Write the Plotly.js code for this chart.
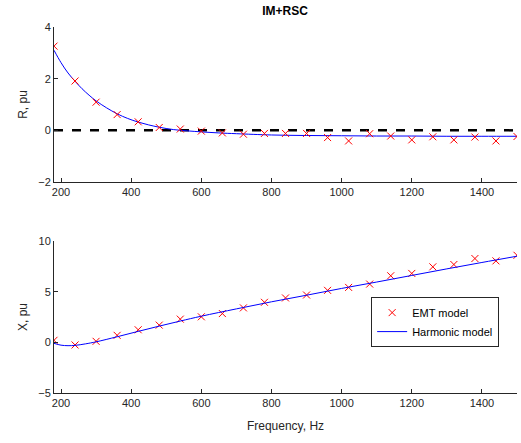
<!DOCTYPE html>
<html>
<head>
<meta charset="utf-8">
<script src="https://cdn.plot.ly/plotly-3.0.1.min.js"></script>
<style>html,body{margin:0;padding:0;background:#fff;}</style>
</head>
<body>
<div id="chart" style="width:521px;height:443px;"></div>
<script>
// EMT model sample frequencies (Hz)
const emtFreq = [180,240,300,360,420,480,540,600,660,720,780,840,900,960,1020,1080,1140,1200,1260,1320,1380,1440,1500];
// EMT model resistance R (pu)
const emtR = [3.26,1.91,1.09,0.61,0.33,0.11,0.05,-0.03,-0.10,-0.15,-0.12,-0.12,-0.12,-0.28,-0.41,-0.13,-0.22,-0.37,-0.25,-0.37,-0.26,-0.41,-0.24];
// EMT model reactance X (pu)
const emtX = [0.20,-0.26,0.10,0.69,1.24,1.70,2.29,2.52,2.84,3.40,3.95,4.38,4.67,5.13,5.42,5.75,6.57,6.80,7.45,7.68,8.27,8.04,8.59];

// Harmonic model curve
const harmFreqR = [180,200,220,240,260,280,300,330,360,390,420,450,480,520,560,600,650,700,800,900,1000,1100,1200,1300,1400,1500];
const harmR = [3.10,2.62,2.22,1.90,1.61,1.36,1.14,0.87,0.64,0.46,0.32,0.21,0.12,0.03,-0.02,-0.06,-0.10,-0.13,-0.18,-0.20,-0.21,-0.22,-0.22,-0.23,-0.23,-0.23];
const harmFreqX = [180,200,220,240,270,300,360,420,480,540,600,700,800,900,1000,1100,1200,1300,1400,1500];
const harmX = [-0.10,-0.28,-0.33,-0.30,-0.15,0.05,0.55,1.08,1.60,2.10,2.58,3.30,4.00,4.65,5.32,5.95,6.60,7.25,7.88,8.50];

// Reference line
const refFreq = [180,1500];
const refR = [0,0];

const axisCol = '#262626';
const fam = 'Liberation Sans, Arial, sans-serif';
const tickFont = {family:fam, size:11, color:axisCol};

const traces = [
  {x: refFreq, y: refR, xaxis:'x', yaxis:'y', mode:'lines', line:{color:'#000', width:2.5, dash:'dash'}, showlegend:false, hoverinfo:'skip'},
  {x: harmFreqR, y: harmR, xaxis:'x', yaxis:'y', mode:'lines', line:{color:'#0000ff', width:1, shape:'spline'}, showlegend:false},
  {x: emtFreq, y: emtR, xaxis:'x', yaxis:'y', mode:'markers', marker:{symbol:'x-thin-open', size:7, color:'#ff0000', line:{color:'#ff0000', width:1}}, showlegend:false},
  {x: emtFreq, y: emtX, xaxis:'x2', yaxis:'y2', mode:'markers', name:'EMT model', marker:{symbol:'x-thin-open', size:7, color:'#ff0000', line:{color:'#ff0000', width:1}}},
  {x: harmFreqX, y: harmX, xaxis:'x2', yaxis:'y2', mode:'lines', name:'Harmonic model', line:{color:'#0000ff', width:1, shape:'spline'}}
];

const xcommon = {
  range:[180,1500], tickvals:[200,400,600,800,1000,1200,1400], ticks:'inside', ticklen:4, tickcolor:axisCol,
  showline:true, linecolor:axisCol, linewidth:1, showgrid:false, zeroline:false, tickfont:tickFont, mirror:false
};
const ycommon = {
  ticks:'inside', ticklen:4, tickcolor:axisCol, showline:true, linecolor:axisCol, linewidth:1,
  showgrid:false, zeroline:false, tickfont:tickFont
};

const layout = {
  width:521, height:443,
  margin:{l:54, r:4, t:27, b:50},
  paper_bgcolor:'#fff', plot_bgcolor:'#fff',
  title:{text:'<b>IM+RSC</b>', font:{family:fam, size:12, color:'#000'}, x:0.547, xanchor:'center', y:0.975, yanchor:'middle'},
  xaxis: Object.assign({}, xcommon, {domain:[0,1], anchor:'y'}),
  yaxis: Object.assign({}, ycommon, {domain:[0.5765,1], range:[-2,4], tickvals:[-2,0,2,4], anchor:'x',
    title:{text:'R, pu', font:{family:fam, size:12, color:axisCol}, standoff:8}}),
  xaxis2: Object.assign({}, xcommon, {domain:[0,1], anchor:'y2',
    title:{text:'Frequency, Hz', font:{family:fam, size:12, color:axisCol}, standoff:13}}),
  yaxis2: Object.assign({}, ycommon, {domain:[0,0.4153], range:[-5,10], tickvals:[-5,0,5,10], anchor:'x2',
    title:{text:'X, pu', font:{family:fam, size:12, color:axisCol}, standoff:8}}),
  legend:{x:0.685, y:0.262, xanchor:'left', yanchor:'top', bgcolor:'#fff', bordercolor:axisCol, borderwidth:1,
    font:{family:fam, size:11, color:'#000'}, tracegroupgap:0, itemwidth:30},
  showlegend:true
};

Plotly.newPlot('chart', traces, layout, {displayModeBar:false, staticPlot:true});
</script>
</body>
</html>
